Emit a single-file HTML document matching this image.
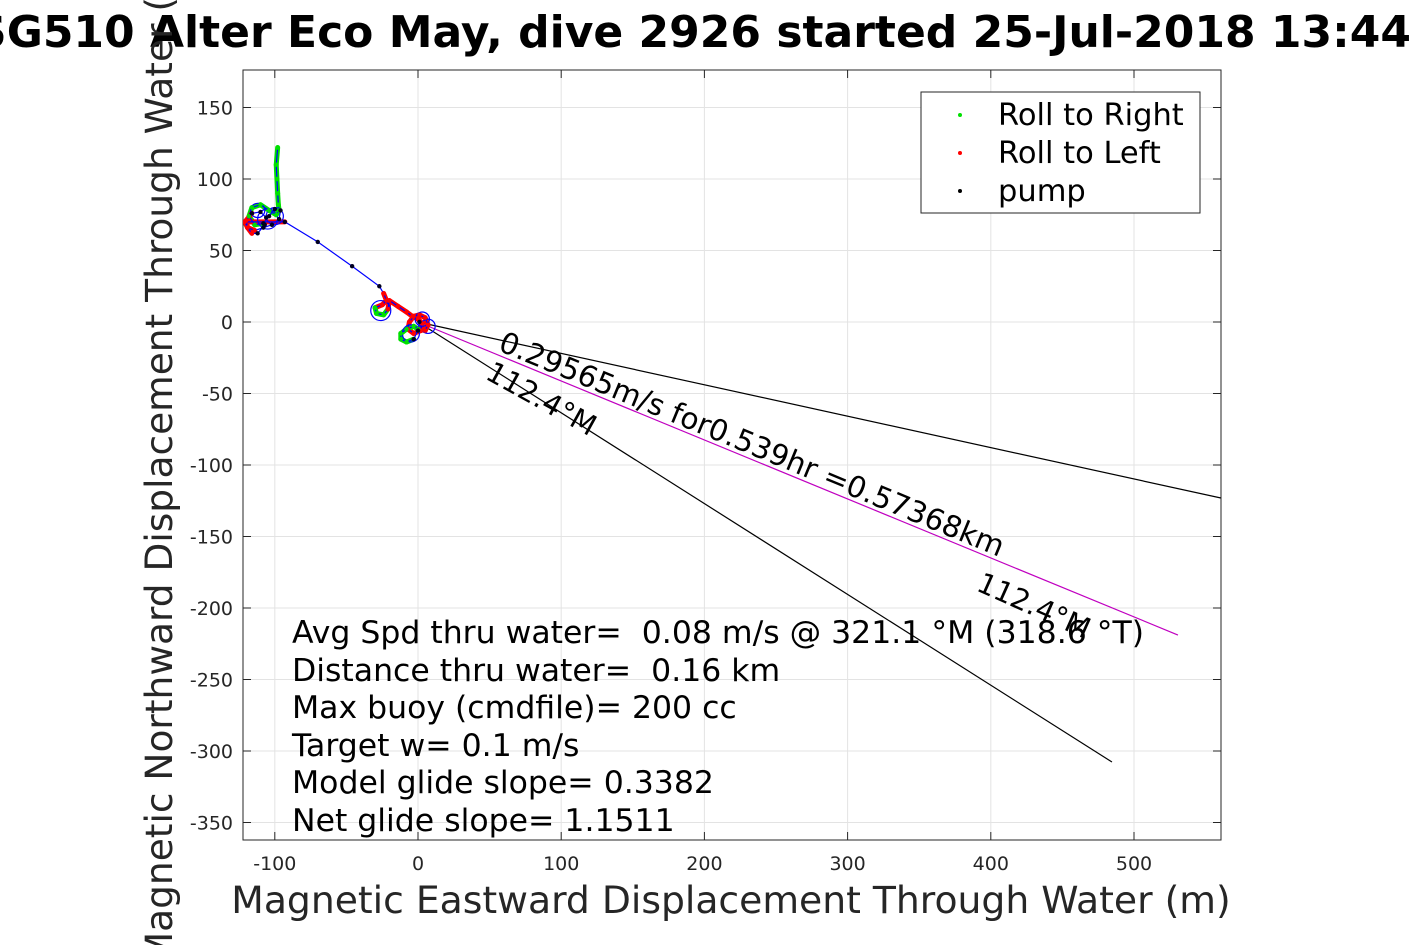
<!DOCTYPE html>
<html><head><meta charset="utf-8"><style>
body{margin:0;background:#fff;width:1417px;height:945px;overflow:hidden}
svg{font-family:"DejaVu Sans","Liberation Sans",sans-serif}
text{white-space:pre}
</style></head><body>
<svg id="c" width="1417" height="945"></svg>
<script>
const xTicks=[-100,0,100,200,300,400,500];
const yTicks=[150,100,50,0,-50,-100,-150,-200,-250,-300,-350];
const trackX=[-98,-99,-98.5,-98,-97.5,-97,-99,-104,-110,-116,-118,-114,-108,-104,-100,-96,-97,-102,-108,-114,-119,-120,-116,-110,-106,-107,-112,-116,-119,-121,-93,-70,-46,-27,-24,-22,-25,-30,-29,-24,-21,-20,-14,-8,-4,0,3,2,-3,-7,-6,-3,1,5,7,5,0,-3,-8,-12,-12,-8,-3,0,1];
const trackY=[122,110,100,90,82,78,75,78,82,80,74,68,69,74,79,78,72,68,66,64,66,71,76,77,73,68,62,62,66,70,70,56,39,25,20,15,12,10,6,5,9,15,11,7,4,2,-1,-6,-8,-5,0,4,5,3,-2,-6,-5,-3,-5,-8,-12,-14,-12,-6,0];
const trackState=['g','g','g','g','g','g','g','g','g','g','g','g','k','k','k','k','k','k','k','r','r','r','k','k','k','k','k','r','r','r','k','k','k','k','r','r','r','g','g','g','r','r','r','r','r','r','r','r','r','r','r','r','r','r','r','r','g','g','g','g','g','g','k','k','k'];
const circX=[-105,-112,-100,-26,3,-5,7];
const circY=[72,78,74,8,2,-8,-3];
const circR=[7,5,6,7,5,6,5];
const vecEndX=[530.7,484.6,560.7];
const vecEndY=[-218.9,-307.7,-123.1];
const vecColor=['#c000c0','#000','#000'];
const L=243,R=1221,T=70,B=840;
const sx=v=>418+v*1.432, sy=v=>322-v*1.43;
const s=document.getElementById('c');const NS='http://www.w3.org/2000/svg';
function mk(t,a,p){const e=document.createElementNS(NS,t);for(const k in a)e.setAttribute(k,a[k]);(p||s).appendChild(e);return e;}
xTicks.forEach(v=>{const x=sx(v);
const g=mk('line',{x1:x,x2:x,y1:T,y2:B,stroke:'#e3e3e3'});


mk('line',{x1:x,x2:x,y1:B,y2:B-8,stroke:'#262626'});mk('line',{x1:x,x2:x,y1:T,y2:T+8,stroke:'#262626'});
const t=mk('text',{x:x,y:870,'text-anchor':'middle','font-size':19,fill:'#262626'});t.textContent=v;

});
yTicks.forEach(v=>{const y=sy(v);
const g=mk('line',{x1:L,x2:R,y1:y,y2:y,stroke:'#e3e3e3'});


mk('line',{x1:L,x2:L+8,y1:y,y2:y,stroke:'#262626'});mk('line',{x1:R,x2:R-8,y1:y,y2:y,stroke:'#262626'});
const t=mk('text',{x:233,y:y+7,'text-anchor':'end','font-size':19,fill:'#262626'});t.textContent=v;

});
const fr=mk('rect',{x:L,y:T,width:R-L,height:B-T,fill:'none',stroke:'#262626'});


const cp=mk('clipPath',{id:'cp'});mk('rect',{x:L,y:T,width:R-L,height:B-T},cp);
const pg=mk('g',{'clip-path':'url(#cp)'});
vecEndX.forEach((v,i)=>{const l=mk('line',{x1:sx(0),y1:sy(0),x2:sx(v),y2:sy(vecEndY[i]),stroke:vecColor[i],'stroke-width':1.2},pg);

});
const cm={g:'#00e000',r:'#ff0000',k:'#000020'};
for(let i=0;i<trackX.length-1;i++){if(trackState[i]==='k')continue;
const sg=mk('line',{x1:sx(trackX[i]),y1:sy(trackY[i]),x2:sx(trackX[i+1]),y2:sy(trackY[i+1]),stroke:cm[trackState[i]],'stroke-width':5,'stroke-linecap':'round'},pg);

}
const tp=mk('polyline',{points:trackX.map((v,i)=>sx(v)+','+sy(trackY[i])).join(' '),fill:'none',stroke:'#0000ff','stroke-width':1.2},pg);


circX.forEach((v,i)=>{const c=mk('circle',{cx:sx(v),cy:sy(circY[i]),r:circR[i]*1.43,fill:'none',stroke:'#0000ff','stroke-width':1.2},pg);

});
trackX.forEach((v,i)=>{const d=mk('circle',{cx:sx(v),cy:sy(trackY[i]),r:2.2,fill:cm[trackState[i]]},pg);

});
</script>
<svg width="1417" height="945" style="position:absolute;left:0;top:0">
<g font-family="DejaVu Sans, Liberation Sans, sans-serif">
<text x="693" y="47" text-anchor="middle" font-size="44" font-weight="bold">SG510 Alter Eco May, dive 2926 started 25-Jul-2018 13:44</text>
<text x="731" y="913" text-anchor="middle" font-size="37.7" fill="#262626">Magnetic Eastward Displacement Through Water (m)</text>
<text transform="translate(172,455) rotate(-90)" text-anchor="middle" font-size="37.5" fill="#262626">Magnetic Northward Displacement Through Water (m)</text>
<text transform="translate(497,350) rotate(22.4)" font-size="29.5">0.29565m/s for0.539hr =0.57368km</text>
<text transform="translate(484,378) rotate(29)" font-size="28.5">112.4°M</text>
<text transform="translate(975,590) rotate(24)" font-size="28.5">112.4°M</text>
<g font-size="31.5">
<text x="292" y="643">Avg Spd thru water=  0.08 m/s @ 321.1 °M (318.6 °T)</text>
<text x="292" y="681">Distance thru water=  0.16 km</text>
<text x="292" y="718">Max buoy (cmdfile)= 200 cc</text>
<text x="292" y="756">Target w= 0.1 m/s</text>
<text x="292" y="793">Model glide slope= 0.3382</text>
<text x="292" y="831">Net glide slope= 1.1511</text>
</g>
<g>
<rect x="921" y="92" width="279" height="121" fill="#fff" stroke="#262626"/>
<circle cx="960" cy="115" r="2" fill="#00e000"/><text x="998" y="125" font-size="30.5">Roll to Right</text>
<circle cx="960" cy="153" r="2" fill="#ff0000"/><text x="998" y="163" font-size="30.5">Roll to Left</text>
<circle cx="960" cy="191" r="2" fill="#000"/><text x="998" y="201" font-size="30.5">pump</text>
</g></g></svg>
</body></html>
